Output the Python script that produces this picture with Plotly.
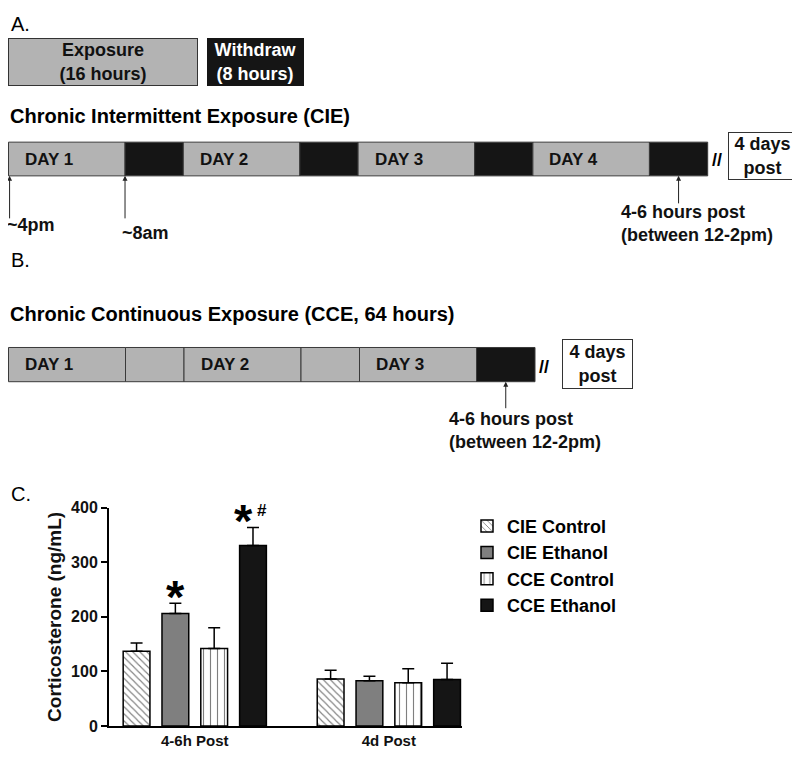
import plotly.graph_objects as go

W, H = 800, 767
OFF = 8  # page body margin offset of the plot div
FONT = "Liberation Sans, Arial, sans-serif"

def PX(x):
    return (x - OFF) / W

def PY(y):
    return 1 - (y - OFF) / H

# ---------------- Data ----------------
# Panel A / B timelines (hours)
cie_phase_start = [0, 16, 24, 40, 48, 64, 72, 88]
cie_phase_len = [16, 8, 16, 8, 16, 8, 16, 8]
cie_phase_kind = ["exp", "wd", "exp", "wd", "exp", "wd", "exp", "wd"]
cie_day_labels = ["DAY 1", "DAY 2", "DAY 3", "DAY 4"]
cie_day_starts = [0, 24, 48, 72]
cie_event_hours = [0, 16, 92]
cie_event_labels = ["~4pm", "~8am", "4-6 hours post<br>(between 12-2pm)"]

cce_phase_start = [0, 16, 24, 40, 48, 64]
cce_phase_len = [16, 8, 16, 8, 16, 8]
cce_phase_kind = ["exp", "exp", "exp", "exp", "exp", "wd"]
cce_day_labels = ["DAY 1", "DAY 2", "DAY 3"]
cce_day_starts = [0, 24, 48]
cce_event_hours = [68]
cce_event_labels = ["4-6 hours post<br>(between 12-2pm)"]

# Panel C bar chart
groups = ["4-6h Post", "4d Post"]
series_names = ["CIE Control", "CIE Ethanol", "CCE Control", "CCE Ethanol"]
cie_control = [137, 86]
cie_ethanol = [206, 83]
cce_control = [142, 79]
cce_ethanol = [331, 85]
cie_control_sem = [15, 16]
cie_ethanol_sem = [19, 8]
cce_control_sem = [38, 26]
cce_ethanol_sem = [33, 30]

# ---------------- Styles ----------------
GRAY = "#b3b3b3"
BLACK = "#151515"
phase_color = {"exp": GRAY, "wd": BLACK}

fig = go.Figure()

# Timeline bars
fig.add_trace(go.Bar(
    orientation="h", y=[0] * len(cie_phase_start), x=cie_phase_len, base=cie_phase_start,
    width=1, marker=dict(color=[phase_color[k] for k in cie_phase_kind],
                         line=dict(color="#3a3a3a", width=1)),
    xaxis="x2", yaxis="y2", showlegend=False, hoverinfo="skip"))
fig.add_trace(go.Bar(
    orientation="h", y=[0] * len(cce_phase_start), x=cce_phase_len, base=cce_phase_start,
    width=1, marker=dict(color=[phase_color[k] for k in cce_phase_kind],
                         line=dict(color="#3a3a3a", width=1)),
    xaxis="x3", yaxis="y3", showlegend=False, hoverinfo="skip"))

# Bar chart
bar_specs = [
    (series_names[0], cie_control, cie_control_sem, dict(color="white", line=dict(color="black", width=1.5),
        pattern=dict(shape="\\", fgcolor="black", bgcolor="white", size=5, solidity=0.22))),
    (series_names[1], cie_ethanol, cie_ethanol_sem, dict(color="#7f7f7f", line=dict(color="black", width=1.5))),
    (series_names[2], cce_control, cce_control_sem, dict(color="white", line=dict(color="black", width=1.5),
        pattern=dict(shape="|", fgcolor="black", bgcolor="white", size=7, solidity=0.16))),
    (series_names[3], cce_ethanol, cce_ethanol_sem, dict(color=BLACK, line=dict(color="black", width=1.5))),
]
for name, vals, sem, marker in bar_specs:
    fig.add_trace(go.Bar(
        x=groups, y=vals, name=name, marker=marker,
        error_y=dict(type="data", array=sem, arrayminus=[0] * len(sem), symmetric=False,
                     color="black", thickness=1.5, width=6),
        xaxis="x", yaxis="y", hoverinfo="skip"))

bargap = 0.2
slot = (1 - bargap) / len(series_names)
def bar_center(group_idx, series_idx):
    return group_idx + (series_idx - (len(series_names) - 1) / 2) * slot

ann = []
def text(x, y, s, size=18, bold=True, color="black", xanchor="left", yanchor="middle", **kw):
    ann.append(dict(x=x, y=y, xref=kw.pop("xref", "paper"), yref=kw.pop("yref", "paper"),
                    text=("<b>%s</b>" % s) if bold else s, showarrow=False,
                    font=dict(family=FONT, size=size, color=color),
                    xanchor=xanchor, yanchor=yanchor, **kw))

# Panel labels
text(PX(9), PY(16), "A.", size=20, bold=False)
text(PX(9), PY(258), "B.", size=20, bold=False)
text(PX(9), PY(497), "C.", size=20, bold=False)

def box(cx, cy, w, h, s, bg, fg, border):
    ann.append(dict(x=PX(cx), y=PY(cy), xref="paper", yref="paper", showarrow=False,
                    xanchor="center", yanchor="middle",
                    text="<b>%s</b>" % s, font=dict(family=FONT, size=18, color=fg),
                    bgcolor=bg, bordercolor=border, borderwidth=1, borderpad=0,
                    width=w, height=h, align="center"))

# Key boxes
box(103, 55, 188, 46, "Exposure<br>(16 hours)", GRAY, "#111", "#333")
box(255.5, 55, 95, 46, "Withdraw<br>(8 hours)", BLACK, "white", BLACK)

# Titles
text(PX(8), PY(110), "Chronic Intermittent Exposure (CIE)", size=20)
text(PX(8), PY(313), "Chronic Continuous Exposure (CCE, 64 hours)", size=20)

# Day labels
for lab, st in zip(cie_day_labels, cie_day_starts):
    text(st + 2, 0, lab, size=17, xref="x2", yref="y2", color="#111")
for lab, st in zip(cce_day_labels, cce_day_starts):
    text(st + 2, 0, lab, size=17, xref="x3", yref="y3", color="#111")

# Arrows + event labels
cie_arrow_len = [44, 44, 29]
cie_label_y = [222, 230, 220]
cie_label_shift = [-5, -5, -60]
for h, lab, L, ly, sh in zip(cie_event_hours, cie_event_labels, cie_arrow_len, cie_label_y, cie_label_shift):
    ann.append(dict(x=max(h, 0.15), y=-0.5, xref="x2", yref="y2", text="", showarrow=True,
                    ax=0, ay=L, arrowhead=2, arrowsize=1, arrowwidth=1, arrowcolor="#222"))
    ann.append(dict(x=max(h, 0.15), y=PY(ly), xref="x2", yref="paper", text="<b>%s</b>" % lab,
                    showarrow=False, xanchor="left", yanchor="middle", xshift=sh, align="left",
                    font=dict(family=FONT, size=18, color="#111")))
for h, lab in zip(cce_event_hours, cce_event_labels):
    ann.append(dict(x=h, y=-0.5, xref="x3", yref="y3", text="", showarrow=True,
                    ax=0, ay=28, arrowhead=2, arrowsize=1, arrowwidth=1, arrowcolor="#222"))
    ann.append(dict(x=h, y=PY(432), xref="x3", yref="paper", text="<b>%s</b>" % lab,
                    showarrow=False, xanchor="left", yanchor="middle", xshift=-59, align="left",
                    font=dict(family=FONT, size=18, color="#111")))

# "//" and 4 days post boxes
text(PX(717), PY(155), "//", size=18, xanchor="center")
text(PX(544), PY(367), "//", size=18, xanchor="center")
box(762.5, 151, 67, 46, "4 days<br>post", "white", "#111", "#333")
box(597.5, 364, 69, 48, "4 days<br>post", "white", "#111", "#333")

# Significance markers
ann.append(dict(x=bar_center(0, 1), y=cie_ethanol[0] + cie_ethanol_sem[0], xref="x", yref="y",
                text="<b>*</b>", showarrow=False, xanchor="center", yanchor="bottom", yshift=-22,
                font=dict(family=FONT, size=47, color="black")))
ann.append(dict(x=bar_center(0, 3), y=cce_ethanol[0] + cce_ethanol_sem[0], xref="x", yref="y",
                text="<b>*</b>", showarrow=False, xanchor="center", yanchor="bottom", yshift=-22,
                xshift=-9, font=dict(family=FONT, size=47, color="black")))
ann.append(dict(x=bar_center(0, 3), y=cce_ethanol[0] + cce_ethanol_sem[0], xref="x", yref="y",
                text="<b>#</b>", showarrow=False, xanchor="center", yanchor="bottom", yshift=5, xshift=9,
                font=dict(family=FONT, size=17, color="black")))

# timeline axis geometry (pixels per hour, left edge of hour 0)
T0 = 8.5
hpx = (707.7 - T0) / 96.0
cpx = (535.0 - T0) / 72.0
fig.update_layout(
    width=W, height=H, margin=dict(l=0, r=0, t=0, b=0),
    paper_bgcolor="white", plot_bgcolor="white",
    barmode="group", bargap=bargap, bargroupgap=0.31,
    font=dict(family=FONT, color="black"),
    showlegend=True,
    legend=dict(x=PX(467), y=PY(511), xanchor="left", yanchor="top",
                font=dict(family=FONT, size=18, color="black", weight="bold"),
                bgcolor="rgba(0,0,0,0)", traceorder="normal"),
    xaxis=dict(domain=[PX(109), PX(462)], type="category", range=[-0.442, 1.377],
               showline=True, linecolor="black", linewidth=2, ticks="", showgrid=False,
               zeroline=False, tickfont=dict(family=FONT, size=15, color="#111", weight="bold")),
    yaxis=dict(domain=[PY(734), PY(511)], range=[0, 400], tickvals=[0, 100, 200, 300, 400],
               ticks="outside", ticklen=6, tickwidth=2, tickcolor="black",
               showline=True, linecolor="black", linewidth=2, showgrid=False, zeroline=False,
               tickfont=dict(family=FONT, size=16, color="#111", weight="bold"),
               title=dict(text="<b>Corticosterone (ng/mL)</b>", standoff=4,
                          font=dict(family=FONT, size=19, color="#111"))),
    xaxis2=dict(domain=[0, PX(707.7 + 4)], range=[(8 - T0) / hpx, 96 + 4 / hpx], visible=False),
    yaxis2=dict(domain=[PY(171.5 + 0.05 * 34.5), PY(137 - 0.05 * 34.5)], range=[-0.55, 0.55], visible=False),
    xaxis3=dict(domain=[0, PX(535 + 4)], range=[(8 - T0) / cpx, 72 + 4 / cpx], visible=False),
    yaxis3=dict(domain=[PY(382 + 0.05 * 35), PY(347 - 0.05 * 35)], range=[-0.55, 0.55], visible=False),
    annotations=ann,
)

fig.write_html("out.html")
